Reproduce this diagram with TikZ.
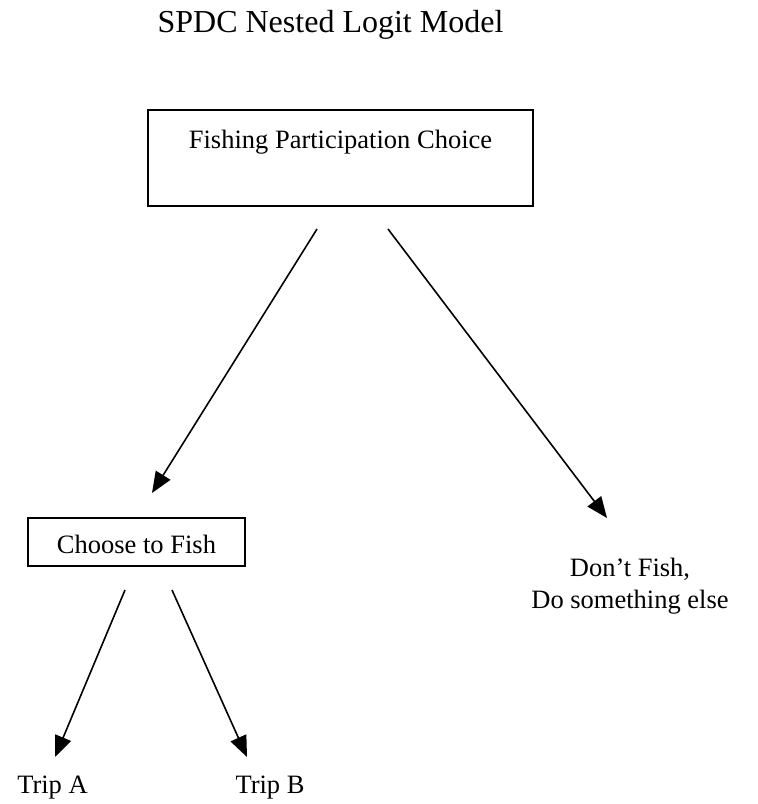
\documentclass[tikz,border=0pt]{standalone}
\usepackage{fontspec}
\setmainfont{Liberation Serif}
\usepackage{tikz}
\usetikzlibrary{positioning,arrows.meta}

\begin{document}
\begin{tikzpicture}[
    x = 0.5pt,
    y = -0.5pt,
    > = {Triangle[length=10.5pt,width=8.5pt]},
    choicebox/.style={draw, line width=1pt, inner sep=0pt, anchor=base},
    leaf/.style={inner sep=0pt, anchor=base, font=\fontsize{13.25}{16}\selectfont},
    arrowline/.style={->, line width=0.8pt}
]
    \useasboundingbox (0,0) rectangle (757,804);

    \node[anchor=base, inner sep=0pt, font=\fontsize{16}{19}\selectfont] (title) at (330.5,32) {SPDC Nested Logit Model};

    \node[choicebox, minimum width=192.5pt, text height=19pt, text depth=29pt,
          font=\fontsize{13.25}{16}\selectfont] (part) at (340.5,148) {Fishing Participation Choice};
    \node[choicebox, minimum width=108.5pt, text height=17.5pt, text depth=6.5pt,
          font=\fontsize{13.25}{16}\selectfont] (fish) at (136.5,553) {Choose to Fish};

    \node[leaf] (other1) at (630,576) {Don’t Fish,};
    \node[leaf] (other2) at (630,608) {Do something else};
    \node[leaf] (tripA) at (52.5,793) {Trip A};
    \node[leaf] (tripB) at (270,793) {Trip B};

    % arrow ends
    \coordinate (p1) at (317,229);
    \coordinate (p2) at (388,229);
    \coordinate (f1) at (125,590);
    \coordinate (f2) at (172,590);
    \coordinate (t0) at (152,493);
    \coordinate (t1) at (607,518);
    \coordinate (t2) at (55,757);
    \coordinate (t3) at (247,757);

    \path[arrowline]
        (p1) edge (t0)
        (p2) edge (t1)
        (f1) edge (t2)
        (f2) edge (t3);
\end{tikzpicture}
\end{document}
